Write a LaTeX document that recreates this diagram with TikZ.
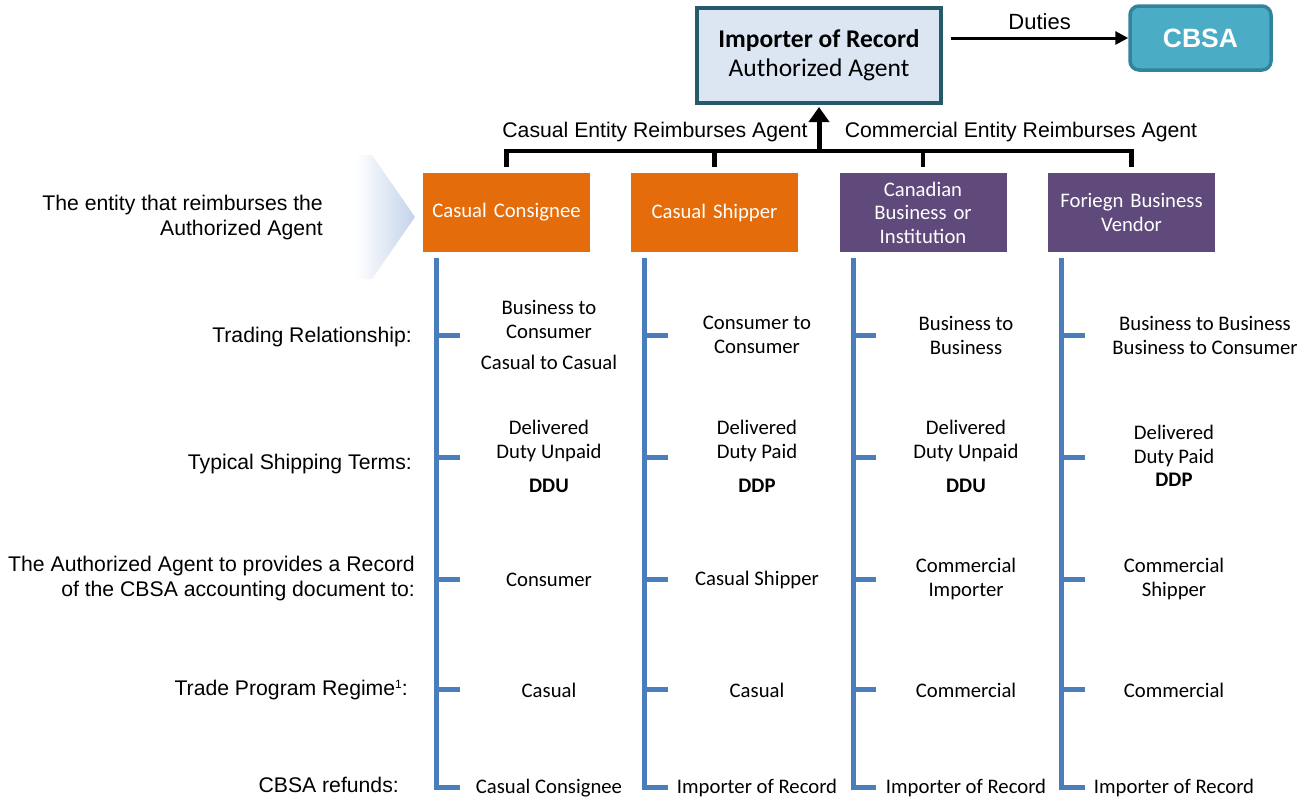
\documentclass[tikz,border=0pt]{standalone}
\usepackage{fontspec}
\setmainfont{Carlito}
\newfontfamily\arialfont{Liberation Sans}
\usetikzlibrary{arrows.meta}
\definecolor{impfill}{HTML}{DCE6F2}
\definecolor{impborder}{HTML}{245A69}
\definecolor{cbsafill}{HTML}{4BACC6}
\definecolor{cbsaborder}{HTML}{31849B}
\definecolor{casualorange}{HTML}{E46C0A}
\definecolor{commpurple}{HTML}{604A7B}
\definecolor{spineblue}{HTML}{4A7EBB}
\definecolor{chevblue}{HTML}{C2D3E9}
\begin{document}
\begin{tikzpicture}[x=1pt,y=-1pt,
  cell/.style={font=\fontsize{20.7}{24}\selectfont, align=center, inner sep=0pt},
  cellbold/.style={cell, font=\fontsize{20.7}{24}\selectfont\bfseries},
  rowlbl/.style={font=\arialfont\fontsize{21.2}{25}\selectfont, align=right, anchor=east, inner sep=0pt},
  toplbl/.style={font=\arialfont\fontsize{21.2}{25}\selectfont, inner sep=0pt},
  hdr/.style={minimum width=167pt, minimum height=79pt, inner sep=0pt, text width=150pt,
    align=center, text=white, font=\fontsize{20.7}{23.5}\selectfont},
  casualhdr/.style={hdr, fill=casualorange},
  commhdr/.style={hdr, fill=commpurple},
  impbox/.style={draw=impborder, line width=4pt, fill=impfill, minimum width=244pt,
    minimum height=95pt, align=center, inner sep=0pt, font=\fontsize{25.5}{29}\selectfont},
  cbsabox/.style={draw=cbsaborder, line width=3.5pt, fill=cbsafill, rounded corners=9pt,
    minimum width=141pt, minimum height=64pt, text=white, inner sep=0pt,
    font=\arialfont\bfseries\fontsize{26.5}{30}\selectfont},
  bracket/.style={line width=4.5pt, black},
  spine/.style={line width=5pt, spineblue, line join=miter},
  dutyarrow/.style={line width=3pt, -{Triangle[width=13pt,length=13pt]}},
  uparrow/.style={line width=5pt, -{Triangle[width=20pt,length=15pt]}}
]
\useasboundingbox (0,0) rectangle (1306,804);

% fading chevron pointing at the first header
\shade[left color=white, right color=chevblue, draw=none]
  (356,155) -- (372,155) -- (415,217) -- (372,279) -- (356,279) -- cycle;

% top boxes
\node[impbox] (ior) at (819,55.5) {\textbf{Importer of Record}\\Authorized Agent};
\node[cbsabox] (cbsa) at (1200.5,38) {CBSA};
\draw[dutyarrow] ([xshift=8pt]ior.east |- cbsa.west) -- (cbsa.west)
  node[midway, above=7pt, font=\arialfont\fontsize{22}{26}\selectfont, inner sep=0pt] (duties) {Duties};

% column headers
\node[casualhdr] (h1) at (506.5,212.5) {Casual Consignee};
\node[casualhdr] (h2) at (714.5,212.5) {Casual Shipper};
\node[commhdr] (h3) at (923,212.5) {Canadian\\Business or\\Institution};
\node[commhdr] (h4) at (1131.5,212.5) {Foriegn Business\\Vendor};

% bracket joining the headers to the importer
\coordinate (b1) at ([yshift=6pt]h1.north);
\coordinate (b2) at ([yshift=6pt]h2.north);
\coordinate (b3) at ([yshift=6pt]h3.north);
\coordinate (b4) at ([yshift=6pt]h4.north);
\draw[bracket] (b1) -- ++(0,-16) coordinate (bar) -| (b4);
\draw[bracket] (b2) -- ++(0,-16);
\draw[bracket] (b3) -- ++(0,-16);
\draw[uparrow] (ior.south |- bar) -- ([yshift=-2pt]ior.south);
\node[toplbl] (lcas) at (655,132) {Casual Entity Reimburses Agent};
\node[toplbl] (lcom) at (1021,132) {Commercial Entity Reimburses Agent};

% row labels
\node[rowlbl] (lent) at (323,218) {The entity that reimburses the\\Authorized Agent};
\node[rowlbl] (r1) at (412,337) {Trading Relationship:};
\node[rowlbl] (r2) at (412,464) {Typical Shipping Terms:};
\node[rowlbl] (r3) at (415,578.5) {The Authorized Agent to provides a Record\\of the CBSA accounting document to:};
\node[rowlbl] (r4) at (408,690) {Trade Program Regime\raisebox{7pt}{\fontsize{12}{12}\selectfont 1}:};
\node[rowlbl] (r5) at (399,785) {CBSA refunds:};

% blue spines with ticks
\foreach \h in {h1,h2,h3,h4}{
  \coordinate (s\h) at ([xshift=14pt,yshift=-6pt]\h.south west);
  \draw[spine] (s\h) |- ++(23,529);
  \foreach \y in {335,457,579,689}
    \draw[spine] (s\h |- 0,\y) -- ++(23,0);
}

% column 1
\node[cell] (c1a) at (549,319) {Business to\\Consumer};
\node[cell] (c1b) at (549,362) {Casual to Casual};
\node[cell] (c1c) at (549,441) {Delivered\\Duty Unpaid};
\node[cellbold] (c1d) at (549,486) {DDU};
\node[cell] (c1e) at (549,580) {Consumer};
\node[cell] (c1f) at (549,690) {Casual};
\node[cell] (c1g) at (549,788) {Casual Consignee};

% column 2
\node[cell] (c2a) at (757,335) {Consumer to\\Consumer};
\node[cell] (c2c) at (757,441) {Delivered\\Duty Paid};
\node[cellbold] (c2d) at (757,486) {DDP};
\node[cell] (c2e) at (757,580) {Casual Shipper};
\node[cell] (c2f) at (757,690) {Casual};
\node[cell] (c2g) at (757,788) {Importer of Record};

% column 3
\node[cell] (c3a) at (966,335) {Business to\\Business};
\node[cell] (c3c) at (966,441) {Delivered\\Duty Unpaid};
\node[cellbold] (c3d) at (966,486) {DDU};
\node[cell] (c3e) at (966,579) {Commercial\\Importer};
\node[cell] (c3f) at (966,690) {Commercial};
\node[cell] (c3g) at (966,788) {Importer of Record};

% column 4
\node[cell] (c4a) at (1205,335) {Business to Business\\Business to Consumer};
\node[cell] (c4c) at (1174,446) {Delivered\\Duty Paid};
\node[cellbold] (c4d) at (1174,480) {DDP};
\node[cell] (c4e) at (1174,579) {Commercial\\Shipper};
\node[cell] (c4f) at (1174,690) {Commercial};
\node[cell] (c4g) at (1174,788) {Importer of Record};
\end{tikzpicture}
\end{document}
